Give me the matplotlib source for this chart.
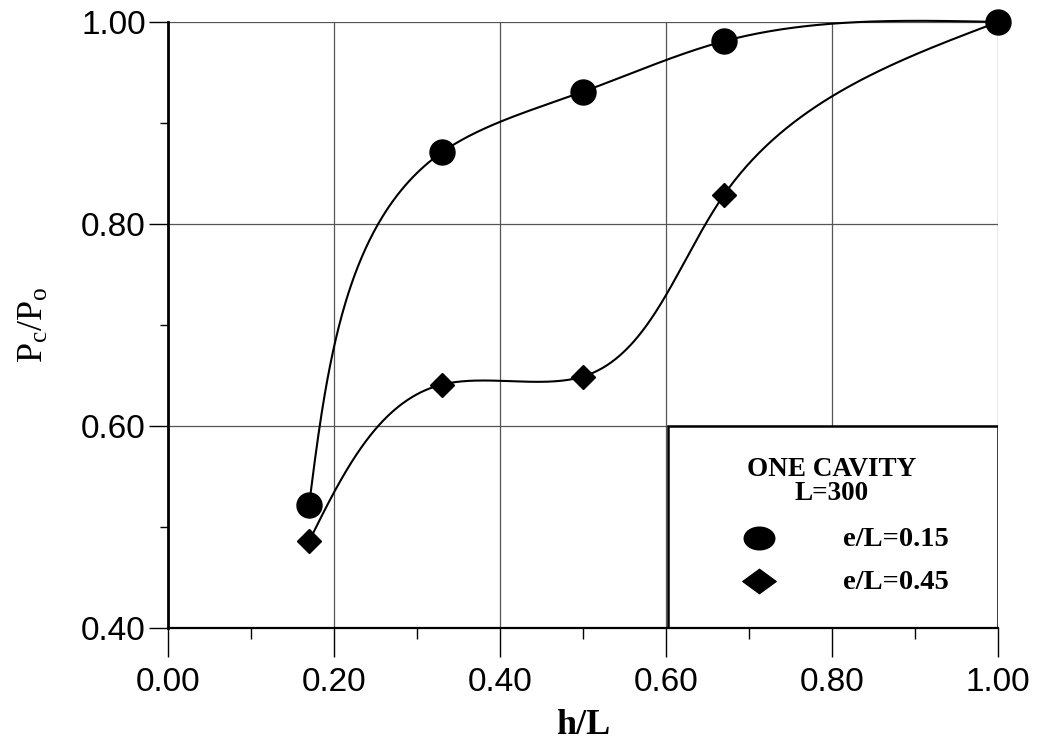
import numpy as np
import matplotlib
matplotlib.use("Agg")
import matplotlib.pyplot as plt
from matplotlib.patches import Rectangle
from matplotlib.lines import Line2D
from matplotlib.path import Path

plt.rcParams['mathtext.fontset'] = 'custom'
plt.rcParams['mathtext.rm'] = 'Liberation Serif'
plt.rcParams['mathtext.it'] = 'Liberation Serif:italic'

# data
h_over_L = [0.17, 0.33, 0.50, 0.67, 1.00]
pc_e015 = [0.522, 0.871, 0.931, 0.981, 1.000]
pc_e045 = [0.486, 0.641, 0.649, 0.829, 1.000]

x_ticks = [0.0, 0.2, 0.4, 0.6, 0.8, 1.0]
y_ticks = [0.4, 0.6, 0.8, 1.0]
legend_title = "ONE CAVITY\nL=300"
labels = ["e/L=0.15", "e/L=0.45"]


def natural_coeffs(t, y):
    k = len(t)
    h = np.diff(t)
    A = np.zeros((k, k))
    b = np.zeros(k)
    A[0, 0] = A[-1, -1] = 1.0
    for i in range(1, k - 1):
        A[i, i - 1] = h[i - 1]
        A[i, i] = 2 * (h[i - 1] + h[i])
        A[i, i + 1] = h[i]
        b[i] = 6 * ((y[i + 1] - y[i]) / h[i] - (y[i] - y[i - 1]) / h[i - 1])
    return np.linalg.solve(A, b)


def eval_spline(t, y, M, ts):
    k = len(t)
    idx = np.clip(np.searchsorted(t, ts) - 1, 0, k - 2)
    t0, t1 = t[idx], t[idx + 1]
    hh = t1 - t0
    a = t1 - ts
    c = ts - t0
    return (M[idx] * a**3 + M[idx + 1] * c**3) / (6 * hh) \
        + (y[idx] / hh - M[idx] * hh / 6) * a \
        + (y[idx + 1] / hh - M[idx + 1] * hh / 6) * c


def smooth_curve(x, y, sx=830.0, sy=1010.0, n=400):
    # parametric spline, chord length measured on screen-like scale
    x = np.asarray(x, float)
    y = np.asarray(y, float)
    d = np.hypot(np.diff(x) * sx, np.diff(y) * sy)
    t = np.concatenate([[0], np.cumsum(d)])
    ts = np.linspace(0, t[-1], n)
    xs = eval_spline(t, x, natural_coeffs(t, x), ts)
    ys = eval_spline(t, y, natural_coeffs(t, y), ts)
    return xs, ys


# slightly wide marker shapes for the legend
ell = Path.unit_circle()
wide_circle = Path(ell.vertices * [1.35, 1.0], ell.codes)
wide_diamond = Path([(-1.37, 0), (0, 1), (1.37, 0), (0, -1), (-1.37, 0)],
                    [Path.MOVETO, Path.LINETO, Path.LINETO, Path.LINETO, Path.CLOSEPOLY])

fig = plt.figure(figsize=(10.37, 7.45), dpi=100)
ax = fig.add_axes([0.162, 0.157, 0.8004, 0.8135])

for yy, mk, ms in [(pc_e015, 'o', 18), (pc_e045, 'D', 12.5)]:
    xs, ys = smooth_curve(h_over_L, yy)
    ax.plot(xs, ys, color='black', lw=1.5, zorder=3, clip_on=False)
    ax.plot(h_over_L, yy, linestyle='none', marker=mk, ms=ms,
            color='black', zorder=4, clip_on=False)

ax.set_xlim(0, 1.0)
ax.set_ylim(0.4, 1.0)
ax.set_xticks(x_ticks)
ax.set_yticks(y_ticks)
ax.set_xticks(np.arange(0.1, 1.0, 0.2), minor=True)
ax.set_yticks(np.arange(0.5, 1.0, 0.2), minor=True)
ax.set_xticklabels([f"{v:.2f}" for v in x_ticks])
ax.set_yticklabels([f"{v:.2f}" for v in y_ticks])

for lab in ax.get_xticklabels() + ax.get_yticklabels():
    lab.set_fontfamily('Liberation Sans')
    lab.set_fontsize(24)

ax.tick_params(axis='x', which='major', direction='out', length=21, width=1, pad=7)
ax.tick_params(axis='x', which='minor', direction='out', length=8, width=1)
ax.tick_params(axis='y', which='major', direction='out', length=14, width=1, pad=2)
ax.tick_params(axis='y', which='minor', direction='out', length=6, width=1)

ax.grid(True, which='major', color='#555555', lw=0.9, zorder=1)
ax.set_axisbelow(True)
ax.spines['top'].set_visible(False)
ax.spines['right'].set_visible(False)
ax.spines['left'].set_linewidth(2)
ax.spines['bottom'].set_linewidth(1.6)

ax.set_xlabel("h/L", fontfamily='Liberation Serif', fontweight='bold',
              fontsize=26, labelpad=8)
ax.set_ylabel(r"$\mathrm{P_c/P_o}$", fontsize=26, labelpad=22)

# legend box sitting in the lower right corner
ax.add_patch(Rectangle((0.602, 0.0), 0.398, 0.333, transform=ax.transAxes,
                       facecolor='white', edgecolor='black', lw=1.8, zorder=2))
ax.text(0.80, 0.242, legend_title, transform=ax.transAxes, ha='center',
        va='center', fontfamily='Liberation Serif', fontweight='bold',
        fontsize=19.5, linespacing=0.95, zorder=5)
for fy, mk, ms, lab in [(0.149, wide_circle, 22, labels[0]),
                        (0.078, wide_diamond, 24, labels[1])]:
    ax.add_line(Line2D([0.712], [fy], transform=ax.transAxes, marker=mk,
                       ms=ms, color='black', linestyle='none', zorder=5))
    ax.text(0.813, fy - 0.003, lab, transform=ax.transAxes, ha='left',
            va='center', fontfamily='Liberation Serif', fontweight='bold',
            fontsize=20.5, zorder=5)

fig.savefig("out.png", dpi=100)
